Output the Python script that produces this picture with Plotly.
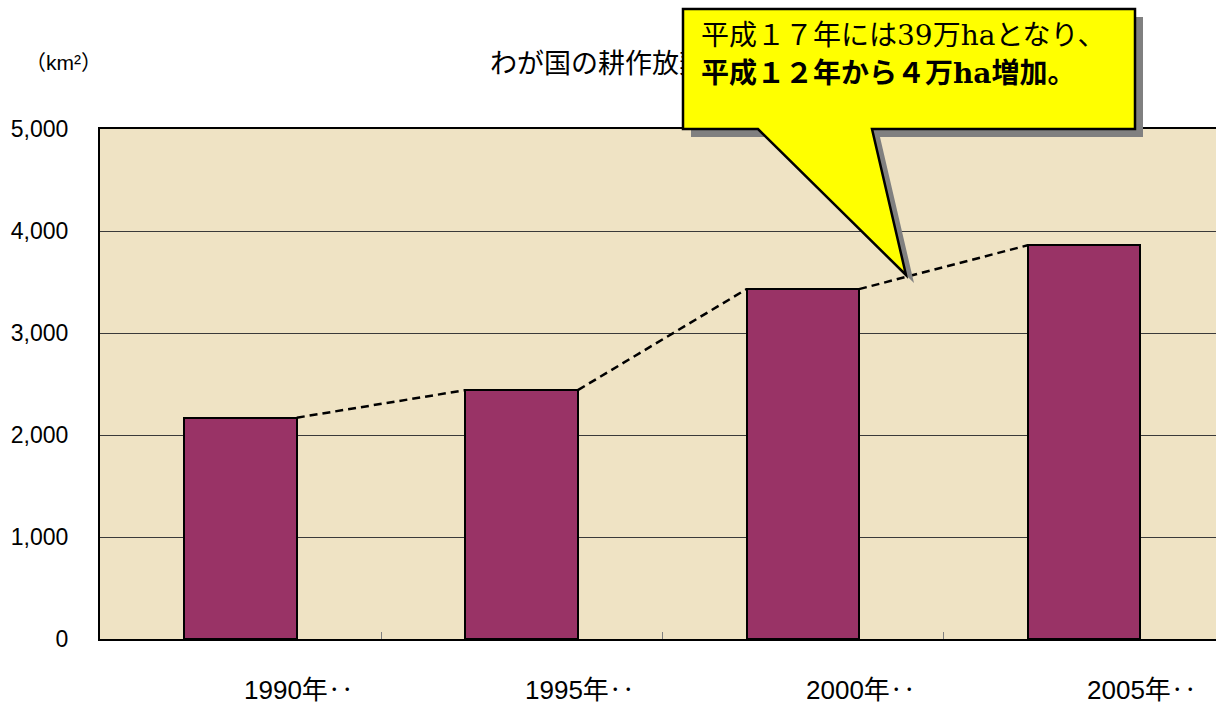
import plotly.graph_objects as go

# ---- data ----
categories = ["1990年‥", "1995年‥", "2000年‥", "2005年‥"]
area_km2 = [2170, 2440, 3430, 3860]
y_ticks = [0, 1000, 2000, 3000, 4000, 5000]
title_text = "わが国の耕作放棄地面積の推移"
unit_text = "（km²）"
SERIF = "font-family:DejaVu Serif"
callout_line1 = ("平成１７年には<span style=\"%s\">39</span>万"
                 "<span style=\"%s\">ha</span>となり、") % (SERIF, SERIF)
callout_line2 = "<b>平成１２年から４万<span style=\"%s\">ha</span>増加。</b>" % SERIF

# ---- layout geometry (pixels) ----
W, H = 1216, 705
PL, PR, PT, PB = 100, 1216, 129, 639
JP = "Liberation Sans, Noto Sans CJK JP"


def px(x):
    return (x - PL) / (PR - PL)


def py(y):
    return (PB - y) / (PB - PT)


def path(points):
    return "M " + " L ".join("%.5f,%.5f" % (px(a), py(b)) for a, b in points) + " Z"


xs = list(range(len(categories)))
bar_w = 0.4

fig = go.Figure()
fig.add_trace(go.Bar(
    x=xs, y=area_km2, width=bar_w,
    marker=dict(color="#993366", line=dict(color="black", width=2)),
    showlegend=False, hoverinfo="skip",
))

# series lines connecting bar tops
lx, ly = [], []
for i in range(len(xs) - 1):
    lx += [xs[i] + bar_w / 2, xs[i + 1] - bar_w / 2, None]
    ly += [area_km2[i], area_km2[i + 1], None]
fig.add_trace(go.Scatter(
    x=lx, y=ly, mode="lines",
    line=dict(color="black", width=2.5, dash="8px,5px"),
    showlegend=False, hoverinfo="skip",
))

# callout geometry
box = [(683, 9), (1135, 9), (1135, 129), (872, 129), (906, 275), (758, 129), (683, 129)]
shadow = [(a + 8, b + 8) for a, b in box]

shapes = [
    # title (as a shape label so the callout can cover it)
    dict(type="rect", xref="paper", yref="paper",
         x0=px(487), x1=px(1000), y0=py(90), y1=py(40),
         line=dict(width=0), fillcolor="rgba(0,0,0,0)", layer="above",
         label=dict(text=title_text, textposition="middle left", padding=0,
                    font=dict(family="Noto Sans CJK JP", size=27, color="black"))),
    dict(type="path", xref="paper", yref="paper", path=path(shadow),
         fillcolor="#808080", line=dict(width=0), layer="above"),
    dict(type="path", xref="paper", yref="paper", path=path(box),
         fillcolor="#FFFF00", line=dict(color="black", width=2.5), layer="above"),
]

annotations = [
    dict(text=unit_text, xref="paper", yref="paper", x=px(23), y=py(62),
         xanchor="left", yanchor="middle", showarrow=False,
         font=dict(family=JP, size=21, color="black")),
    dict(text=callout_line1, xref="paper", yref="paper", x=px(699), y=py(33),
         xanchor="left", yanchor="middle", showarrow=False,
         font=dict(family="Noto Sans CJK JP", size=28, color="black")),
    dict(text=callout_line2, xref="paper", yref="paper", x=px(699), y=py(71),
         xanchor="left", yanchor="middle", showarrow=False,
         font=dict(family="Noto Sans CJK JP", size=28, color="black")),
]
for i, c in enumerate(categories):
    annotations.append(dict(
        text=c, xref="x", yref="paper", x=xs[i], y=0, xshift=1, yshift=-51,
        xanchor="left", yanchor="middle", showarrow=False,
        font=dict(family=JP, size=26, color="black")))

fig.update_layout(
    width=W, height=H,
    margin=dict(l=PL, r=W - PR, t=PT, b=H - PB, pad=0),
    paper_bgcolor="white", plot_bgcolor="#EFE3C4",
    shapes=shapes, annotations=annotations,
    bargap=0, showlegend=False,
)
fig.update_xaxes(
    range=[-0.5, len(categories) - 0.5 - 0.03],
    tickvals=[i + 0.5 for i in xs[:-1]], showticklabels=False,
    ticks="inside", ticklen=7, tickwidth=1, tickcolor="#808080",
    showgrid=False, zeroline=False,
    showline=True, linecolor="black", linewidth=2, mirror=True,
)
fig.update_yaxes(
    range=[0, 5000], tickvals=y_ticks, tickformat=",",
    showgrid=True, gridcolor="#3a3a3a", gridwidth=1, zeroline=False,
    showline=True, linecolor="black", linewidth=2,
    ticks="", ticklabelstandoff=25,
    tickfont=dict(family=JP, size=23, color="black"),
)

fig.write_html("out.html", config={"displayModeBar": False},
               post_script="document.body.style.margin='0';")
